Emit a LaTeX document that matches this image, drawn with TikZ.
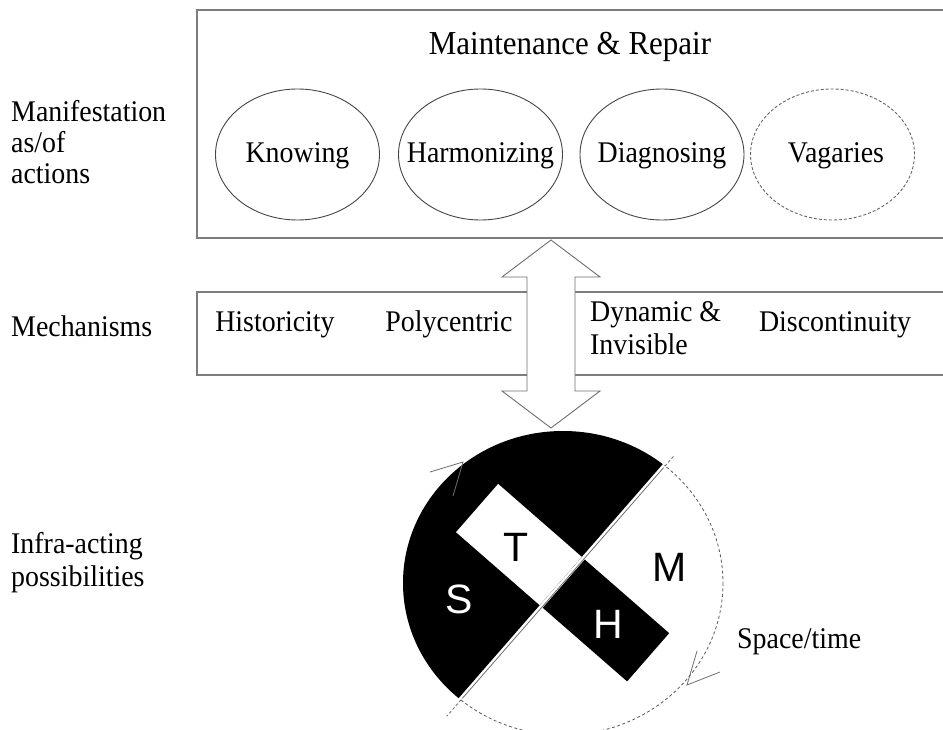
\documentclass[tikz,border=0pt]{standalone}
\usepackage{fontspec}
\setmainfont{Liberation Serif}[FakeStretch=0.93]
\newfontfamily\titlefont{Liberation Serif}[FakeStretch=0.925]
\newfontfamily\letterfont{Liberation Sans}
\usetikzlibrary{shapes.geometric}
\definecolor{boxgray}{RGB}{125,125,125}
\definecolor{linegray}{RGB}{70,70,70}
\definecolor{arrgray}{RGB}{110,110,110}
\begin{document}
\begin{tikzpicture}[x=1pt,y=-1pt,
  txt/.style={font=\fontsize{30}{34}\selectfont, inner sep=0pt},
  lbl/.style={txt, anchor=base west},
  word/.style={txt, anchor=base},
  boxline/.style={draw=boxgray, line width=1.5pt},
  act/.style={ellipse, draw=linegray, line width=0.9pt, minimum width=164pt, minimum height=131pt, inner sep=0pt},
  vague/.style={act, dash pattern=on 3pt off 2pt, draw=black!60},
  letter/.style={font=\letterfont\fontsize{41}{41}\selectfont, inner sep=0pt},
  thinarrow/.style={draw=arrgray, line width=0.8pt},
]
\useasboundingbox (0,0) rectangle (943,730);
\fill[white] (0,0) rectangle (943,730);

% left labels
\node[lbl] (man1) at (11,122) {Manifestation};
\node[lbl] (man2) at (11,153) {as/of};
\node[lbl] (man3) at (11,184) {actions};
\node[lbl] (mech) at (11,337) {Mechanisms};
\node[lbl] (inf1) at (11,553) {Infra-acting};
\node[lbl] (inf2) at (11,586) {possibilities};

% top box
\draw[boxline] (943,10) -- (197,10) -- (197,238) -- (943,238);
\node[word, font=\titlefont\fontsize{33.5}{38}\selectfont] (title) at (570,55) {Maintenance \& Repair};
\node[act] (know) at (297.5,154.5) {};
\node[act] (harm) at (480.5,154.5) {};
\node[act] (diag) at (662,154.5) {};
\node[vague] (vag) at (832.5,154.5) {};
\node[word] (knowT) at (297.5,163) {Knowing};
\node[word] (harmT) at (480.5,163) {Harmonizing};
\node[word] (diagT) at (662,163) {Diagnosing};
\node[word] (vagT) at (836,163) {Vagaries};

% mechanisms box
\draw[boxline] (943,292) -- (197,292) -- (197,375) -- (943,375);
\node[word] (hist) at (275,331) {Historicity};
\node[word] (poly) at (449,331) {Polycentric};
\node[lbl] (dyn1) at (590,321) {Dynamic \&};
\node[lbl] (dyn2) at (590,354) {Invisible};
\node[word] (disc) at (835,331) {Discontinuity};

% double arrow
\coordinate (atop) at (551,240);
\coordinate (abot) at (551,428);
\draw[thinarrow, fill=white, line width=0.9pt] (atop) -- (600,277) -- (575,277) -- (575,391) -- (600,391)
  -- (abot) -- (502,391) -- (527,391) -- (527,277) -- (502,277) -- cycle;

% bottom figure
\coordinate (C) at (563,583);
\begin{scope}
  \clip (C) ellipse [x radius=160, y radius=152];
  \begin{scope}[shift={(C)}, rotate=-41.1]
    \fill[black] (-300,-300) rectangle (-3,300);
    \fill[white] (-114,-32) rectangle (-3,32);
    \fill[black] (1,-32) rectangle (113,32);
  \end{scope}
\end{scope}
\begin{scope}[shift={(C)}, rotate=-41.1]
  \clip (-1,-300) rectangle (300,300);
  \draw[draw=black!65, line width=0.8pt, dash pattern=on 3pt off 2.5pt, rotate=41.1]
    (0,0) ellipse [x radius=160, y radius=152];
\end{scope}
\begin{scope}[shift={(C)}, rotate=-41.1]
  \coordinate (dtop) at (0,-168);
  \coordinate (dbot) at (0,177);
  \coordinate (din1) at (0,-150);
  \coordinate (din2) at (0,150);
  \draw[draw=arrgray, line width=0.8pt] (din1) -- (din2);
  \draw[draw=arrgray, line width=0.8pt, dash pattern=on 3pt off 2pt] (din1) -- (dtop);
  \draw[draw=arrgray, line width=0.8pt, dash pattern=on 3pt off 2pt] (din2) -- (dbot);
\end{scope}

% arrowheads on the cycle
\coordinate (tip1) at (463,462);
\coordinate (tip2) at (687,685);
\draw[thinarrow] (430,472) -- (tip1) -- (453,496);
\draw[thinarrow] (697,651) -- (tip2) -- (720,672);

% letters
\node[letter, text=black] (T) at (516,547) {T};
\node[letter, text=white] (S) at (459,599) {S};
\node[letter, text=black] (M) at (670,567) {M};
\node[letter, text=white] (H) at (608,624) {H};

\node[lbl] (st) at (737,648) {Space/time};
\end{tikzpicture}
\end{document}
